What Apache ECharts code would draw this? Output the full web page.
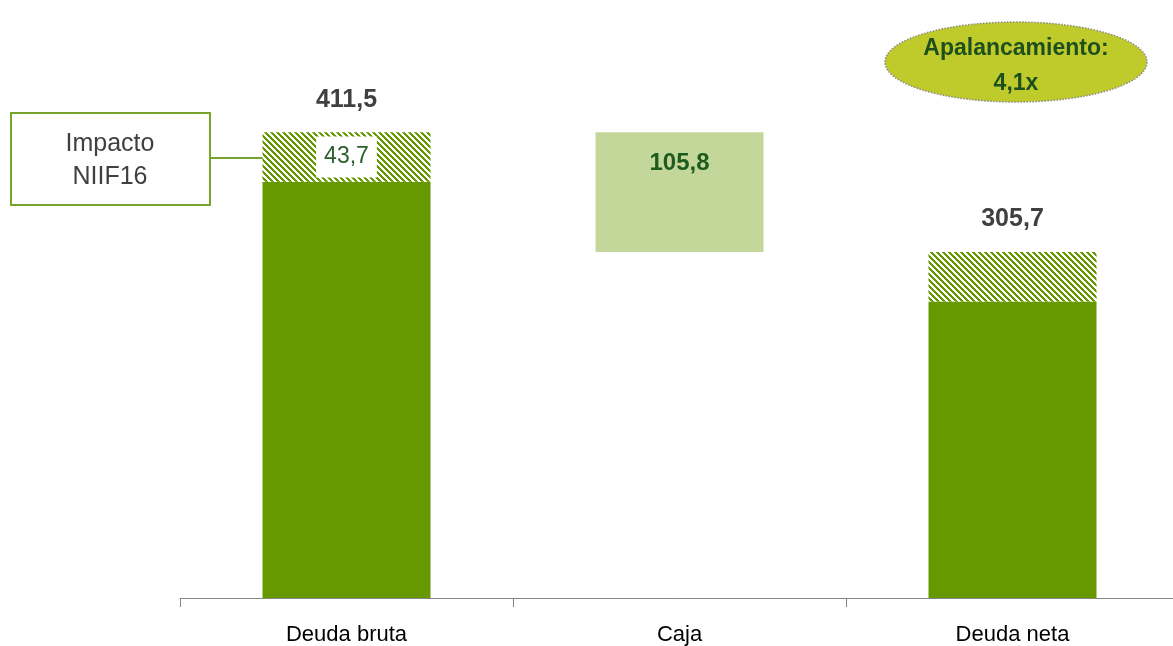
<!DOCTYPE html>
<html>
<head>
<meta charset="utf-8">
<script src="https://cdn.jsdelivr.net/npm/echarts@6/dist/echarts.min.js"></script>
<style>
  html, body { margin: 0; padding: 0; background: #ffffff; }
  #chart { width: 1173px; height: 646px; }
</style>
</head>
<body>
<div id="chart"></div>
<script>
// datos del gráfico
const categories = ['Deuda bruta', 'Caja', 'Deuda neta'];
const baseValues = [0, 305.7, 0];          // base invisible (cascada)
const solidValues = [367.8, '-', 262.0];   // deuda sin NIIF16
const niifValues = [43.7, '-', 43.7];      // impacto NIIF16
const cajaValues = ['-', 105.8, '-'];
const totalValues = [411.5, null, 305.7];
const leverageText = ['Apalancamiento:', '4,1x'];

const fmt = v => v.toFixed(1).replace('.', ',');
const FONT = "'Liberation Sans Narrow', 'Arial Narrow', 'Liberation Sans', Arial, sans-serif";

// patrón de rayas diagonales
const makeHatch = () => {
  const n = 6;
  const c = document.createElement('canvas');
  c.width = n; c.height = n;
  const ctx = c.getContext('2d');
  const img = ctx.createImageData(n, n);
  for (let y = 0; y < n; y++) {
    for (let x = 0; x < n; x++) {
      const i = (y * n + x) * 4;
      const green = ((x - y) % n + n) % n < 3;
      img.data[i] = green ? 0x66 : 255;
      img.data[i + 1] = green ? 0x99 : 255;
      img.data[i + 2] = green ? 0x00 : 255;
      img.data[i + 3] = 255;
    }
  }
  ctx.putImageData(img, 0, 0);
  return c;
};

const myChart = echarts.init(document.getElementById('chart'));

const option = {
  backgroundColor: '#ffffff',
  animation: false,
  grid: { left: 180, right: -6, top: 32, bottom: 48, outerBoundsMode: 'none' },
  xAxis: {
    type: 'category',
    data: categories,
    axisLine: { lineStyle: { color: '#868686', width: 1 } },
    axisTick: { show: true, length: 9, lineStyle: { color: '#868686' } },
    axisLabel: { color: '#000000', fontFamily: FONT, fontSize: 22, margin: 26 }
  },
  yAxis: {
    type: 'value',
    min: 0,
    max: 500,
    show: false,
    splitLine: { show: false }
  },
  series: [
    {
      name: 'base',
      type: 'bar',
      stack: 'total',
      barWidth: 168,
      itemStyle: { color: 'transparent' },
      data: baseValues
    },
    {
      name: 'deuda',
      type: 'bar',
      stack: 'total',
      barWidth: 168,
      itemStyle: { color: '#669900' },
      data: solidValues
    },
    {
      name: 'caja',
      type: 'bar',
      stack: 'total',
      barWidth: 168,
      itemStyle: { color: '#C4D79B' },
      label: {
        show: true,
        position: 'insideTop',
        distance: 19,
        formatter: p => fmt(p.value),
        color: '#1E5B1E',
        fontFamily: FONT,
        fontWeight: 'bold',
        fontSize: 24
      },
      data: cajaValues
    },
    {
      name: 'niif16',
      type: 'bar',
      stack: 'total',
      barWidth: 168,
      itemStyle: { color: { image: makeHatch(), repeat: 'repeat' } },
      data: niifValues.map((v, i) => i === 0 ? {
        value: v,
        label: {
          show: true,
          position: 'inside',
          formatter: p => fmt(p.value),
          color: '#2B5E2B',
          fontFamily: FONT,
          fontSize: 23,
          backgroundColor: '#ffffff',
          padding: [9, 8, 9, 8]
        }
      } : v)
    },
    {
      name: 'totales',
      type: 'bar',
      stack: 'total',
      barWidth: 168,
      itemStyle: { color: 'transparent' },
      label: {
        show: true,
        position: 'top',
        distance: 20,
        formatter: p => totalValues[p.dataIndex] == null ? '' : fmt(totalValues[p.dataIndex]),
        color: '#404040',
        fontFamily: FONT,
        fontWeight: 'bold',
        fontSize: 25
      },
      data: totalValues.map(v => v == null ? '-' : 0)
    }
  ],
  graphic: [
    {
      type: 'line',
      shape: { x1: 210, y1: 158, x2: 263, y2: 158 },
      style: { stroke: '#77A52B', lineWidth: 2 }
    },
    {
      type: 'rect',
      shape: { x: 11, y: 113, width: 199, height: 92 },
      style: { fill: '#ffffff', stroke: '#77A52B', lineWidth: 2 }
    },
    {
      type: 'text',
      x: 110, y: 161,
      style: {
        text: 'Impacto\nNIIF16',
        fill: '#404040',
        font: "25px " + FONT,
        align: 'center',
        verticalAlign: 'middle',
        lineHeight: 33
      }
    },
    {
      type: 'ellipse',
      shape: { cx: 1016, cy: 62, rx: 131, ry: 40 },
      style: { fill: '#BFCB2A', stroke: '#8A8A8A', lineWidth: 1.5, lineDash: [1.5, 1.5] }
    },
    {
      type: 'text',
      x: 1016, y: 66,
      style: {
        text: leverageText.join('\n'),
        fill: '#1E4F1E',
        font: "bold 23px " + FONT,
        align: 'center',
        verticalAlign: 'middle',
        lineHeight: 35
      }
    }
  ]
};

myChart.setOption(option);
</script>
</body>
</html>
